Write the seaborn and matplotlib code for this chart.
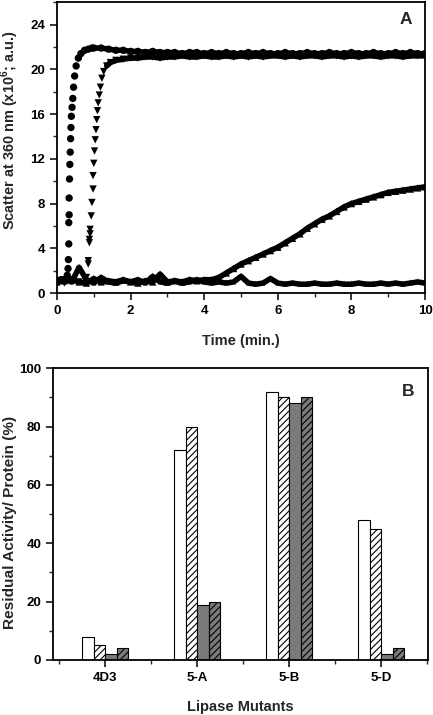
import numpy as np
import pandas as pd
import matplotlib
matplotlib.use("Agg")
import matplotlib.pyplot as plt
from matplotlib.ticker import MultipleLocator, FixedLocator
import seaborn as sns

# --- Panel A : scatter kinetics ---
t_grid = [0.0, 0.2, 0.4, 0.6, 0.8, 1.0, 1.2, 1.4, 1.6, 1.8, 2.0, 2.2, 2.4, 2.6, 2.8,
          3.0, 3.2, 3.4, 3.6, 3.8, 4.0, 4.2, 4.4, 4.6, 4.8, 5.0, 5.2, 5.4, 5.6, 5.8,
          6.0, 6.2, 6.4, 6.6, 6.8, 7.0, 7.2, 7.4, 7.6, 7.8, 8.0, 8.2, 8.4, 8.6, 8.8,
          9.0, 9.2, 9.4, 9.6, 9.8, 10.0]

# circles : fast aggregation
t_circ = [0.0, 0.1, 0.2, 0.28, 0.30, 0.31, 0.32, 0.32, 0.33, 0.33, 0.34, 0.35, 0.36,
          0.37, 0.38, 0.39, 0.41, 0.43, 0.45, 0.48, 0.52, 0.58, 0.65, 0.75, 0.85, 0.95] + t_grid[5:]
y_circ = [1.0, 1.2, 1.1, 1.6, 2.2, 3.0, 4.4, 6.3, 7.0, 8.5, 10.2, 11.5, 12.6,
          13.8, 14.8, 15.8, 16.6, 17.4, 18.4, 19.4, 20.3, 21.0, 21.4, 21.7, 21.8, 21.9,
          21.9, 21.9, 21.8, 21.7, 21.7, 21.6, 21.6, 21.5, 21.6, 21.5, 21.5, 21.5, 21.4,
          21.5, 21.5, 21.4, 21.5, 21.4, 21.5, 21.4, 21.4, 21.5, 21.4, 21.5, 21.4, 21.4,
          21.5, 21.4, 21.4, 21.5, 21.4, 21.4, 21.5, 21.4, 21.4, 21.5, 21.4, 21.4, 21.5,
          21.4, 21.4, 21.5, 21.4, 21.5, 21.4, 21.4]

# down triangles : slower aggregation
t_down = [0.0, 0.2, 0.4, 0.6, 0.8, 0.85, 0.85, 0.88, 0.88, 0.90, 0.90, 0.93, 0.95, 0.98,
          0.98, 1.0, 1.02, 1.04, 1.06, 1.08, 1.10, 1.12, 1.15, 1.18, 1.22, 1.27, 1.35,
          1.45, 1.6, 1.8] + t_grid[10:]
y_down = [1.1, 0.9, 1.2, 1.0, 1.4, 2.6, 2.9, 4.5, 4.8, 5.3, 5.7, 6.9, 8.1, 9.3,
          10.5, 11.6, 12.7, 13.7, 14.6, 15.5, 16.3, 17.0, 17.7, 18.4, 19.2, 19.8, 20.3,
          20.6, 20.8, 20.9,
          21.0, 21.0, 21.1, 21.1, 21.0, 21.1, 21.1, 21.2, 21.1, 21.1, 21.2, 21.1, 21.1,
          21.2, 21.1, 21.2, 21.1, 21.2, 21.1, 21.2, 21.2, 21.1, 21.2, 21.1, 21.2, 21.2,
          21.1, 21.2, 21.2, 21.1, 21.2, 21.1, 21.2, 21.2, 21.1, 21.2, 21.2, 21.1, 21.2,
          21.2, 21.2]

# up triangles : lag then slow rise
y_up = [1.0, 1.1, 1.2, 1.0, 0.9, 1.3, 1.0, 1.1, 1.0, 1.2, 1.0, 0.9, 1.1, 1.0, 1.7,
        1.0, 1.1, 1.0, 1.2, 1.1, 1.2, 1.2, 1.4, 1.8, 2.2, 2.6, 2.9, 3.2, 3.5, 3.8,
        4.1, 4.5, 4.9, 5.3, 5.8, 6.2, 6.6, 6.9, 7.3, 7.7, 8.0, 8.2, 8.4, 8.6, 8.8,
        9.0, 9.1, 9.2, 9.3, 9.4, 9.5]

# stars : no aggregation
y_flat = [1.1, 1.3, 1.0, 2.3, 1.2, 0.9, 1.4, 1.0, 0.9, 1.1, 1.0, 1.2, 0.9, 1.5, 1.0,
          0.9, 1.1, 0.9, 1.0, 1.2, 1.0, 0.9, 1.0, 0.9, 1.0, 1.5, 0.9, 0.8, 0.9, 1.3,
          0.9, 0.8, 0.9, 0.8, 0.8, 0.9, 0.8, 0.8, 0.9, 0.8, 0.8, 0.9, 0.8, 0.8, 0.9,
          0.8, 0.9, 0.8, 0.9, 1.0, 0.9]

# --- Panel B : residual activity ---
mutants = ["4D3", "5-A", "5-B", "5-D"]
conditions = ["c1", "c2", "c3", "c4"]
activity = {
    "c1": [8, 72, 92, 48],
    "c2": [5, 80, 90, 45],
    "c3": [2, 19, 88, 2],
    "c4": [4, 20, 90, 4],
}

df_a = pd.concat([
    pd.DataFrame({"t": t_circ, "y": y_circ, "s": "circ"}),
    pd.DataFrame({"t": t_down, "y": y_down, "s": "down"}),
    pd.DataFrame({"t": t_grid, "y": y_up, "s": "up"}),
    pd.DataFrame({"t": t_grid, "y": y_flat, "s": "flat"}),
], ignore_index=True)
# the plateau parts are densely sampled in the original -> draw them as a thick trace
line_from = {"circ": 0.6, "down": 1.3, "up": 0.0, "flat": 0.0}
df_line = df_a[df_a["t"] >= df_a["s"].map(line_from)]

df_b = pd.DataFrame([
    {"mutant": m, "cond": c, "val": activity[c][i]}
    for c in conditions for i, m in enumerate(mutants)
])

sns.set_style("ticks")
plt.rcParams["font.family"] = ["Liberation Sans", "DejaVu Sans"]
plt.rcParams["font.weight"] = "bold"
plt.rcParams["mathtext.fontset"] = "custom"
plt.rcParams["mathtext.rm"] = "Liberation Sans:bold"
plt.rcParams["mathtext.bf"] = "Liberation Sans:bold"
plt.rcParams["hatch.linewidth"] = 0.8

fig = plt.figure(figsize=(4.33, 7.15), dpi=100)
ax1 = fig.add_axes([0.1316, 0.590, 0.850, 0.407])
ax2 = fig.add_axes([0.1224, 0.077, 0.866, 0.408])

sns.lineplot(data=df_line, x="t", y="y", units="s", estimator=None, sort=False,
             color="black", linewidth=4.0, legend=False, ax=ax1)
sns.scatterplot(data=df_a, x="t", y="y", style="s",
                markers={"circ": "o", "down": "v", "up": "^", "flat": "*"},
                color="black", s=28, linewidth=0, legend=False, ax=ax1)
ax1.set_xlim(0, 10)
ax1.set_ylim(0, 26)
ax1.xaxis.set_major_locator(MultipleLocator(2))
ax1.xaxis.set_minor_locator(MultipleLocator(1))
ax1.yaxis.set_major_locator(MultipleLocator(4))
ax1.yaxis.set_minor_locator(MultipleLocator(2))
ax1.set_xlabel("Time (min.)", fontsize=10.5, fontweight="bold", labelpad=12)
ylab1 = ax1.set_ylabel(r"Scatter at 360 nm (x10$^{6}$; a.u.)", fontsize=10.5, fontweight="bold")
ax1.yaxis.set_label_coords(-0.097, 0.56)
ax1.text(0.965, 0.94, "A", transform=ax1.transAxes, ha="right", va="center",
         fontsize=12.5, fontweight="bold")

sns.barplot(data=df_b, x="mutant", y="val", hue="cond", order=mutants,
            hue_order=conditions,
            palette=["white", "white", "#7a7a7a", "#7a7a7a"],
            width=0.5, edgecolor="black", linewidth=0.8, legend=False, ax=ax2)
for i, cont in enumerate(ax2.containers):
    if i in (1, 3):
        for bar in cont:
            bar.set_hatch("/////")
ax2.set_xlim(-0.57, 3.51)
ax2.set_ylim(0, 100)
ax2.yaxis.set_major_locator(MultipleLocator(20))
ax2.yaxis.set_minor_locator(MultipleLocator(10))
ax2.xaxis.set_minor_locator(FixedLocator([-0.5, 0.5, 1.5, 2.5, 3.5]))
ax2.set_xlabel("Lipase Mutants", fontsize=10.5, fontweight="bold", labelpad=12)
ylab2 = ax2.set_ylabel("Residual Activity/ Protein (%)", fontsize=9.8, fontweight="bold")
ax2.yaxis.set_label_coords(-0.097, 0.47)
ax2.text(0.965, 0.92, "B", transform=ax2.transAxes, ha="right", va="center",
         fontsize=12.5, fontweight="bold")

for ax in (ax1, ax2):
    for sp in ax.spines.values():
        sp.set_visible(True)
        sp.set_linewidth(1.3)
        sp.set_color("black")
    ax.tick_params(which="major", direction="out", length=5, width=1.1,
                   labelsize=9.5, colors="black", top=False, right=False)
    ax.tick_params(which="minor", direction="out", length=3, width=1.0,
                   top=False, right=False)
    for lab in ax.get_xticklabels() + ax.get_yticklabels():
        lab.set_fontweight("bold")

# fit the rotated y labels to the length they have in the original
fig.canvas.draw()
r = fig.canvas.get_renderer()
for lab, target in ((ylab1, 200), (ylab2, 213)):
    h = lab.get_window_extent(r).height
    lab.set_fontsize(lab.get_fontsize() * target / h)

fig.savefig("out.png", dpi=100)
